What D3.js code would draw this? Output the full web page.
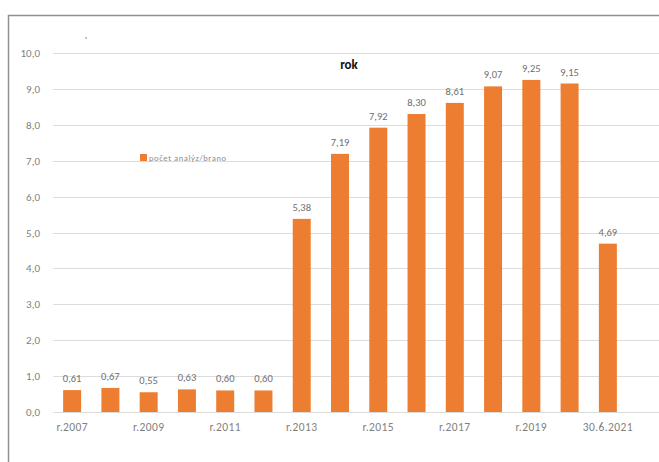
<!DOCTYPE html>
<html>
<head>
<meta charset="utf-8">
<script src="https://cdn.jsdelivr.net/npm/d3@7"></script>
<style>
  html, body { margin: 0; padding: 0; background: #fff; }
  svg { display: block; }
  text { font-family: Calibri, Carlito, "Liberation Sans", "DejaVu Sans", sans-serif; }
</style>
</head>
<body>
<svg id="chart" width="659" height="462"></svg>
<script>
// Year categories and the yearly count per category
const categories = ["r.2007", "r.2008", "r.2009", "r.2010", "r.2011", "r.2012", "r.2013",
  "r.2014", "r.2015", "r.2016", "r.2017", "r.2018", "r.2019", "r.2020", "30.6.2021"];
const values = [0.61, 0.67, 0.55, 0.63, 0.60, 0.60, 5.38, 7.19, 7.92, 8.30, 8.61, 9.07, 9.25, 9.15, 4.69];
const yTicks = [0, 1, 2, 3, 4, 5, 6, 7, 8, 9, 10];
const shownCategories = ["r.2007", "r.2009", "r.2011", "r.2013", "r.2015", "r.2017", "r.2019", "30.6.2021"];
const seriesName = "počet analýz/brano";
const chartTitle = "rok";

const svg = d3.select("#chart");
const W = 659, H = 462;
const fmt = v => v.toFixed(2).replace(".", ",");
const fmtAxis = v => v.toFixed(1).replace(".", ",");

// outer frame (top and left edges visible)
svg.append("path")
  .attr("d", `M8.5,${H} L8.5,15.5 L${W},15.5`)
  .attr("fill", "none")
  .attr("stroke", "#8f8f8f")
  .attr("stroke-width", 1.5);

const plot = { left: 53, right: 627, top: 53, bottom: 412 };

const x = d3.scaleBand()
  .domain(categories)
  .range([plot.left, plot.right])
  .paddingInner(0.53)
  .paddingOuter(0.265);

const y = d3.scaleLinear()
  .domain([0, 10])
  .range([plot.bottom, plot.top]);

// horizontal gridlines
svg.append("g")
  .selectAll("line")
  .data(yTicks)
  .join("line")
  .attr("x1", plot.left)
  .attr("x2", W)
  .attr("y1", d => Math.round(y(d)) + 0.5)
  .attr("y2", d => Math.round(y(d)) + 0.5)
  .attr("stroke", "#dcdcdc")
  .attr("stroke-width", 1);

// y axis labels
const yAxis = d3.axisLeft(y).tickValues(yTicks).tickFormat(fmtAxis).tickSize(0).tickPadding(0);
svg.append("g")
  .attr("transform", `translate(40,0)`)
  .call(yAxis)
  .call(g => g.select(".domain").remove())
  .call(g => g.selectAll("text")
    .attr("fill", "#7f7f7f")
    .style("font-size", "11px"));

// bars
svg.append("g")
  .selectAll("rect")
  .data(values)
  .join("rect")
  .attr("x", (d, i) => x(categories[i]))
  .attr("width", x.bandwidth())
  .attr("y", d => y(d))
  .attr("height", d => y(0) - y(d))
  .attr("fill", "#ed7d31");

// value labels
svg.append("g")
  .selectAll("text")
  .data(values)
  .join("text")
  .attr("x", (d, i) => x(categories[i]) + x.bandwidth() / 2)
  .attr("y", d => y(d) - 8)
  .attr("text-anchor", "middle")
  .attr("fill", "#6f6f6f")
  .style("font-size", "10.5px")
  .text(fmt);

// x axis labels (every second category)
const xAxis = d3.axisBottom(x).tickValues(shownCategories).tickSize(0).tickPadding(0);
svg.append("g")
  .attr("transform", `translate(0,423)`)
  .call(xAxis)
  .call(g => g.select(".domain").remove())
  .call(g => g.selectAll("text")
    .attr("fill", "#7f7f7f")
    .style("font-size", "11.5px")
    .style("letter-spacing", "0.4px"));

// title
svg.append("text")
  .attr("x", 349)
  .attr("y", 69)
  .attr("text-anchor", "middle")
  .attr("fill", "#111")
  .style("font-size", "13px")
  .style("font-weight", "bold")
  .text(chartTitle);

// legend
const legend = svg.append("g").attr("transform", "translate(140,154)");
legend.append("rect")
  .attr("width", 7).attr("height", 7)
  .attr("fill", "#ed7d31");
legend.append("text")
  .attr("x", 9).attr("y", 6.5)
  .attr("fill", "#8a8a8a")
  .style("font-size", "8.5px")
  .style("letter-spacing", "0.6px")
  .text(seriesName);

// small mark near the top-left
svg.append("text")
  .attr("x", 85).attr("y", 43)
  .attr("fill", "#444")
  .style("font-size", "9px")
  .text("'");
</script>
</body>
</html>
